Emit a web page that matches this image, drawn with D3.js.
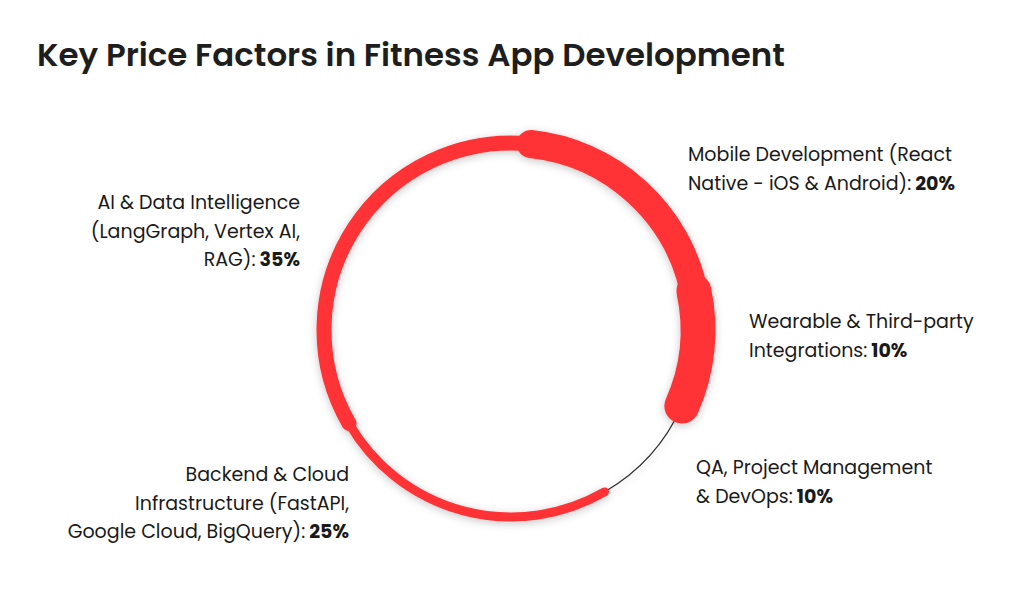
<!DOCTYPE html>
<html>
<head>
<meta charset="utf-8">
<script src="https://cdn.jsdelivr.net/npm/d3@7"></script>
<style>
  html, body { margin: 0; padding: 0; background: #fff; }
  text { font-family: Poppins, "Noto Sans", "Open Sans", sans-serif; }
</style>
</head>
<body>
<div id="chart"></div>
<script>
// Data
var categories = [
  "Mobile Development (React Native - iOS & Android)",
  "Wearable & Third-party Integrations",
  "QA, Project Management & DevOps",
  "Backend & Cloud Infrastructure (FastAPI, Google Cloud, BigQuery)",
  "AI & Data Intelligence (LangGraph, Vertex AI, RAG)"
];
var shares = [20, 10, 10, 25, 35];
var labelLines = [
  ["Mobile Development (React", "Native - iOS & Android):"],
  ["Wearable & Third-party", "Integrations:"],
  ["QA, Project Management", "& DevOps:"],
  ["Backend & Cloud", "Infrastructure (FastAPI,", "Google Cloud, BigQuery):"],
  ["AI & Data Intelligence", "(LangGraph, Vertex AI,", "RAG):"]
];

// Styling / layout
var ringWidths = [28, 35, 1.2, 9, 15];
var ringColors = ["#ff3236", "#ff3236", "#2b2b2b", "#ff3236", "#ff3236"];
var labelPos = [
  { x: 688, y: 161, anchor: "start" },
  { x: 749, y: 328, anchor: "start" },
  { x: 696, y: 474, anchor: "start" },
  { x: 349, y: 481, anchor: "end" },
  { x: 300, y: 209, anchor: "end" }
];

var width = 1024, height = 597;
var cx = 511, cy = 330, radius = 187;
var lineGap = 28.7;

var svg = d3.select("#chart").append("svg")
  .attr("width", width)
  .attr("height", height);

// soft shadow round the ring
var defs = svg.append("defs");
var f = defs.append("filter").attr("id", "shadow")
  .attr("x", "-20%").attr("y", "-20%").attr("width", "140%").attr("height", "140%");
f.append("feDropShadow")
  .attr("dx", 0).attr("dy", 2)
  .attr("stdDeviation", 4)
  .attr("flood-color", "#000")
  .attr("flood-opacity", 0.22);

// Title, sized to fit its width in the reference
var title = svg.append("text")
  .attr("x", 37).attr("y", 66)
  .attr("fill", "#1e1e1e")
  .style("font-weight", 600)
  .style("font-size", "30px")
  .text("Key Price Factors in Fitness App Development");
var tLen = title.node().getComputedTextLength();
title.style("font-size", (30 * 748 / tLen) + "px");

// Pie layout starting slightly past 12 o'clock
var startOffset = 6 * Math.PI / 180;
var pie = d3.pie().sort(null).value(d => d)
  .startAngle(startOffset).endAngle(startOffset + 2 * Math.PI);
var slices = pie(shares).map((d, i) => Object.assign(d, { i: i }));

function arcPath(d) {
  var p = d3.path();
  p.arc(cx, cy, radius, d.startAngle - Math.PI / 2, d.endAngle - Math.PI / 2, false);
  return p.toString();
}

// thinner pieces sit under the thicker ones
var drawOrder = slices.slice().sort((a, b) => ringWidths[a.i] - ringWidths[b.i]);

var ring = svg.append("g").attr("filter", "url(#shadow)");
ring.selectAll("path")
  .data(drawOrder)
  .enter()
  .append("path")
  .attr("d", arcPath)
  .attr("fill", "none")
  .attr("stroke", d => ringColors[d.i])
  .attr("stroke-width", d => ringWidths[d.i])
  .attr("stroke-linecap", d => ringWidths[d.i] > 2 ? "round" : "butt");

// Labels
var labels = svg.append("g").selectAll("text")
  .data(slices)
  .enter()
  .append("text")
  .attr("x", d => labelPos[d.i].x)
  .attr("y", d => labelPos[d.i].y)
  .attr("text-anchor", d => labelPos[d.i].anchor)
  .attr("fill", "#1a1a1a")
  .style("font-size", "17px");

labels.each(function(d) {
  var t = d3.select(this);
  var lines = labelLines[d.i];
  lines.forEach((ln, k) => {
    var ts = t.append("tspan")
      .attr("x", labelPos[d.i].x)
      .attr("dy", k === 0 ? 0 : lineGap)
      .text(ln);
    if (k === lines.length - 1) {
      t.append("tspan").style("font-weight", 700).text(" " + d.data + "%");
    }
  });
});

// scale label font so the first Mobile line spans ~264px like the reference
var firstLine = labels.filter(d => d.i === 0).select("tspan").node();
var fl = firstLine.getComputedTextLength();
labels.style("font-size", (17 * 264 / fl) + "px");
</script>
</body>
</html>
